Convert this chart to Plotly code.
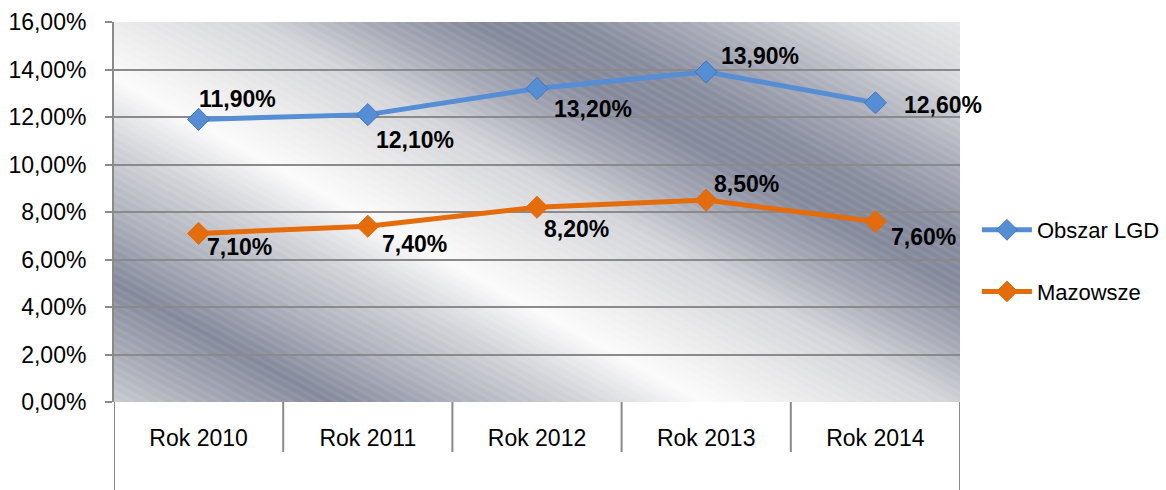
import base64
import plotly.graph_objects as go

categories = ["Rok 2010", "Rok 2011", "Rok 2012", "Rok 2013", "Rok 2014"]
obszar_lgd = [0.119, 0.121, 0.132, 0.139, 0.126]
mazowsze = [0.071, 0.074, 0.082, 0.085, 0.076]
y_ticks = [0.0, 0.02, 0.04, 0.06, 0.08, 0.10, 0.12, 0.14, 0.16]
y_tick_labels = ["0,00%", "2,00%", "4,00%", "6,00%", "8,00%", "10,00%", "12,00%", "14,00%", "16,00%"]

# data-label offsets (pixels) from each point, as placed in the original
shift_lgd = [(-2, 20), (6, -25), (15, -20), (13, 16), (27, -2)]
shift_maz = [(6, -14), (12, -18), (5, -22), (6, 16), (14, -15)]


def pct(v):
    return f"{v*100:.2f}%".replace(".", ",")


W, H = 846, 380
stops = [(-520, "#e9e9ea"), (-440, "#d6d7db"), (-360, "#a9acb8"), (-290, "#868b9d"),
         (-240, "#83889b"), (-180, "#a6a9b5"), (-120, "#d3d4d9"), (-50, "#e9e9ea"),
         (15, "#fbfbfb"), (80, "#d2d3d8"), (150, "#aeb1bc"), (220, "#83889b"),
         (290, "#aaadb8"), (360, "#d6d7da")]
s0, s1 = -520, 360
k0, k1 = s0 / 1.3025, s1 / 1.3025
x1, y1 = -0.55 * k0, 40.7 + k0
x2, y2 = -0.55 * k1, 40.7 + k1
stop_xml = "".join(
    f'<stop offset="{(s - s0) / (s1 - s0):.4f}" stop-color="{c}"/>' for s, c in stops)
svg = (f'<svg xmlns="http://www.w3.org/2000/svg" width="{W}" height="{H}" '
       f'viewBox="0 0 {W} {H}" preserveAspectRatio="none">'
       f'<defs><linearGradient id="g" gradientUnits="userSpaceOnUse" '
       f'x1="{x1:.1f}" y1="{y1:.1f}" x2="{x2:.1f}" y2="{y2:.1f}">{stop_xml}</linearGradient>'
       f'<pattern id="p" patternUnits="userSpaceOnUse" width="7" height="7" '
       f'patternTransform="rotate(28.8)"><rect x="0" y="0" width="7" height="3" '
       f'fill="#ffffff" fill-opacity="0.07"/></pattern></defs>'
       f'<rect x="0" y="0" width="{W}" height="{H}" fill="url(#g)"/>'
       f'<rect x="0" y="0" width="{W}" height="{H}" fill="url(#p)"/></svg>')
svg_uri = "data:image/svg+xml;base64," + base64.b64encode(svg.encode()).decode()

FONT = "Liberation Sans, Arial, sans-serif"
GRID = "#8a8a8a"

fig = go.Figure()
fig.add_trace(go.Scatter(
    x=categories, y=obszar_lgd, name="Obszar LGD", mode="lines+markers",
    line=dict(color="#558ed5", width=5),
    marker=dict(symbol="diamond", size=17, color="#558ed5", line=dict(color="#3f75bb", width=1)),
    legendgroup="a", cliponaxis=False,
))
fig.add_trace(go.Scatter(
    x=categories, y=mazowsze, name="Mazowsze", mode="lines+markers",
    line=dict(color="#e46c0a", width=5),
    marker=dict(symbol="diamond", size=17, color="#e46c0a", line=dict(color="#e46c0a", width=1)),
    legendgroup="b", cliponaxis=False,
))

annotations = []
for series, shifts in ((obszar_lgd, shift_lgd), (mazowsze, shift_maz)):
    for cat, v, (dx, dy) in zip(categories, series, shifts):
        annotations.append(dict(
            x=cat, y=v, xref="x", yref="y", text=pct(v), showarrow=False,
            xanchor="left", yanchor="middle", xshift=dx, yshift=dy,
            font=dict(family=FONT, size=23, color="#000000", weight="bold")))

shapes = []
n = len(categories)
for i in range(-1, n):
    edge = i == -1 or i == n - 1
    shapes.append(dict(type="line", xref="x", yref="paper", x0=i + 0.5, x1=i + 0.5,
                       y0=0, y1=-0.2316 if edge else -0.1316,
                       line=dict(color=GRID, width=2)))

fig.update_layout(
    width=1166, height=490,
    margin=dict(l=114, r=206, t=22, b=88, autoexpand=False),
    paper_bgcolor="white", plot_bgcolor="rgba(0,0,0,0)",
    font=dict(family=FONT, size=23, color="#000000"),
    images=[dict(source=svg_uri, xref="paper", yref="paper", x=0, y=1, sizex=1, sizey=1,
                 xanchor="left", yanchor="top", sizing="stretch", layer="below")],
    xaxis=dict(type="category", range=[-0.5, n - 0.5], showgrid=False, showline=False,
               ticks="", tickfont=dict(family=FONT, size=23), ticklabelstandoff=20,
               zeroline=False, automargin=False),
    yaxis=dict(range=[0, 0.16], tickvals=y_ticks, ticktext=y_tick_labels,
               showgrid=True, gridcolor=GRID, gridwidth=2, showline=True, linecolor=GRID,
               linewidth=2, ticks="outside", ticklen=7, tickcolor=GRID, tickwidth=2,
               tickfont=dict(family=FONT, size=23), ticklabelstandoff=14, zeroline=False,
               automargin=False),
    shapes=shapes,
    annotations=annotations,
    showlegend=True,
    legend=dict(x=1.02, y=0.371, xanchor="left", yanchor="middle",
                font=dict(family=FONT, size=22), traceorder="grouped", tracegroupgap=30,
                itemwidth=50, bgcolor="rgba(0,0,0,0)"),
)

fig.write_html("out.html", config={"displayModeBar": False},
               post_script="document.body.style.margin='0';document.body.style.overflow='hidden';")
